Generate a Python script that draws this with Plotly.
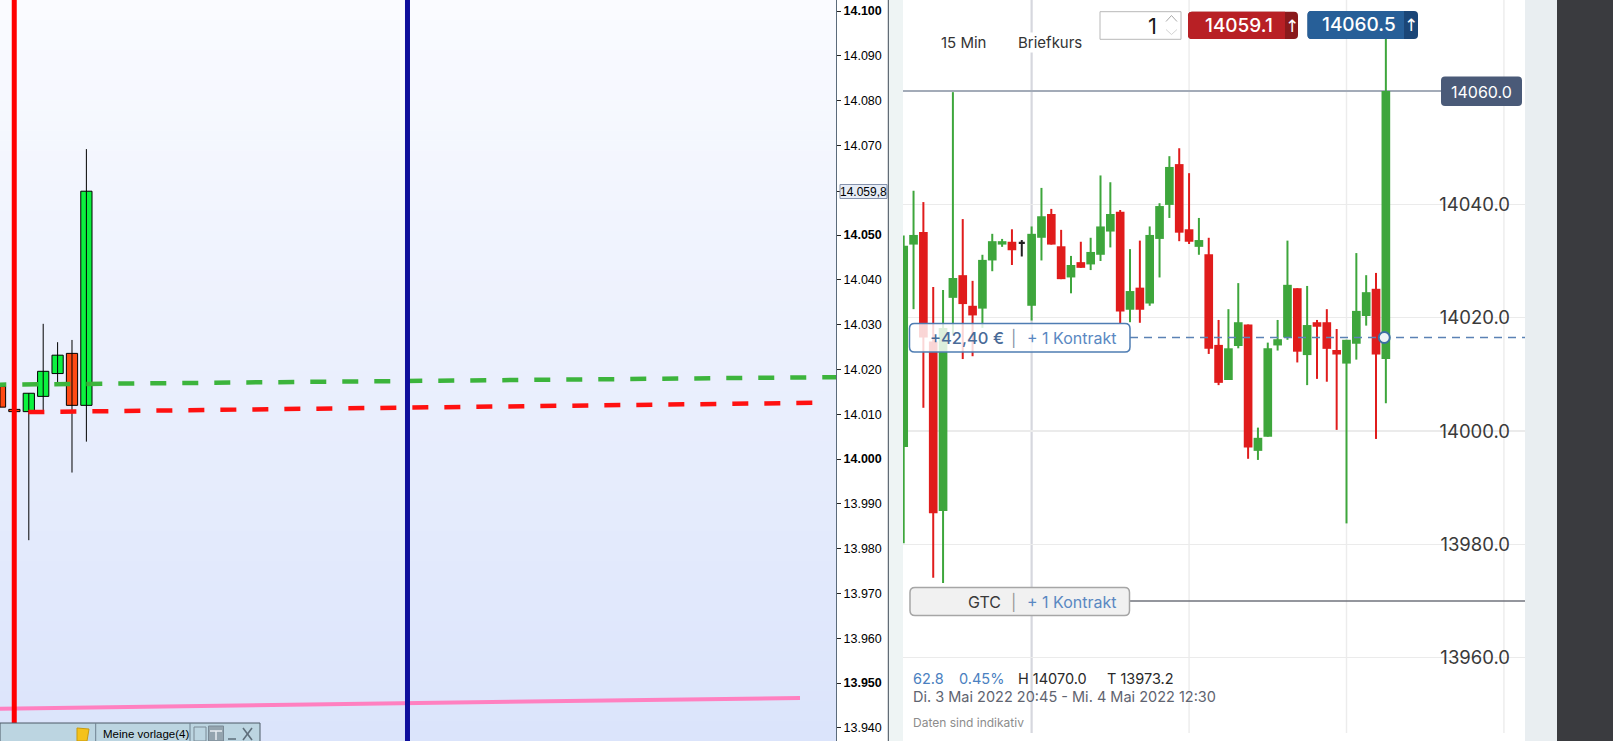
import plotly.graph_objects as go

W, H = 1613, 741

# ---------------- data ----------------
# left panel (CFD chart with German number format)
L_X = [0, 1, 2, 3, 4, 5, 6]
L_OPEN = [14016.2, 14011.1, 14010.6, 14014.0, 14019.1, 14023.6, 14012.0]
L_HIGH = [14016.2, 14011.1, 14014.7, 14030.2, 14026.1, 14026.6, 14069.2]
L_LOW = [14011.6, 14010.6, 13981.9, 14010.6, 14017.0, 13997.0, 14003.9]
L_CLOSE = [14011.6, 14010.6, 14014.7, 14019.6, 14023.2, 14012.0, 14059.8]
L_TICKS = list(range(13940, 14101, 10))
L_LAST = 14059.8
L_GREEN_LINE = [14016.6, 14018.3]
L_RED_LINE = [14010.5, 14012.6]
L_PINK_LINE = [13944.3, 13946.7]
L_RED_VLINE = 0.99
L_BLUE_VLINE = 28.3

# right panel (15 Min, Briefkurs)
R_OPEN = [13997.2, 14032.9, 14035.1, 14015.8, 13985.9, 14023.5, 14027.5, 14022.1, 14021.6, 14030.1,
          14032.9, 14033.4, 14033.2, 14022.1, 14034.1, 14038.3, 14032.6, 14027.1, 14029.8, 14029.4,
          14031.1, 14035.2, 14038.7, 14021.4, 14025.3, 14022.5, 14033.9, 14039.9, 14047.1, 14035.6,
          14032.5, 14031.2, 14015.2, 14009.0, 14015.0, 14018.8, 13996.5, 13999.0, 14015.1, 14016.5,
          14025.2, 14013.4, 14019.2, 14019.2, 14014.3, 14011.9, 14015.4, 14020.3, 14025.1, 14012.7]
R_HIGH = [14034.5, 14042.4, 14040.4, 14025.4, 14024.9, 14059.8, 14037.4, 14026.5, 14031.1, 14034.8,
          14033.9, 14035.6, 14033.7, 14036.1, 14042.9, 14039.2, 14035.5, 14030.9, 14033.4, 14034.1,
          14045.1, 14043.9, 14039.0, 14032.1, 14033.6, 14036.1, 14040.2, 14048.5, 14049.9, 14045.5,
          14037.6, 14034.1, 14019.6, 14021.5, 14026.1, 14018.8, 14000.6, 14015.6, 14019.6, 14033.6,
          14025.2, 14025.6, 14019.6, 14021.5, 14018.0, 14016.1, 14031.4, 14027.5, 14027.9, 14070.0]
R_LOW = [13980.2, 14021.5, 14004.1, 13974.1, 13973.2, 14017.0, 14012.7, 14013.2, 14018.2, 14028.2,
         14032.5, 14029.3, 14030.8, 14019.5, 14030.1, 14032.9, 14026.8, 14024.3, 14028.8, 14028.4,
         14030.0, 14032.4, 14019.0, 14019.2, 14019.1, 14022.1, 14027.1, 14037.6, 14033.5, 14033.0,
         14031.1, 14013.6, 14008.1, 14009.0, 14014.6, 13995.1, 13994.9, 13999.0, 14014.2, 14016.1,
         14012.1, 14008.1, 14009.2, 14008.7, 14000.2, 13983.7, 14012.6, 14018.6, 13998.6, 14004.9]
R_CLOSE = [14032.7, 14034.6, 14016.5, 13985.5, 14018.2, 14027.0, 14022.4, 14020.4, 14030.2, 14033.5,
           14033.5, 14031.9, 14033.2, 14034.8, 14037.9, 14032.9, 14026.8, 14029.3, 14028.8, 14031.6,
           14036.1, 14038.3, 14021.1, 14024.7, 14021.4, 14034.6, 14039.7, 14046.6, 14035.0, 14033.4,
           14033.7, 14014.5, 14008.5, 14014.6, 14019.2, 13997.1, 13998.8, 14014.6, 14016.2, 14025.8,
           14014.0, 14018.7, 14018.4, 14014.5, 14013.5, 14016.1, 14021.2, 14024.5, 14013.5, 14060.0]
R_TICKS = [13960, 13980, 14000, 14020, 14040]
R_GRID_X = [13, 29, 45, 61]
ENTRY_PRICE = 14016.5
ENTRY_X = 48.84
GTC_PRICE = 13970.0
BID, ASK = 14059.1, 14060.5
QTY = 1
PNL_TEXT = "+42,40 €"
DATE_TEXT = "Di. 3 Mai 2022 20:45 - Mi. 4 Mai 2022 12:30"

# ---------------- helpers ----------------
def px(x):
    return x / W


def py(y):
    return 1 - y / H


def pt(x, y):
    return f"{px(x):.6f},{py(y):.6f}"


def rpath(x0, y0, x1, y1, rl=4, rr=4):
    s = f"M {pt(x0 + rl, y0)} L {pt(x1 - rr, y0)} "
    if rr:
        s += f"Q {pt(x1, y0)} {pt(x1, y0 + rr)} "
    s += f"L {pt(x1, y1 - rr)} "
    if rr:
        s += f"Q {pt(x1, y1)} {pt(x1 - rr, y1)} "
    s += f"L {pt(x0 + rl, y1)} "
    if rl:
        s += f"Q {pt(x0, y1)} {pt(x0, y1 - rl)} "
    s += f"L {pt(x0, y0 + rl)} "
    if rl:
        s += f"Q {pt(x0, y0)} {pt(x0 + rl, y0)} "
    return s + "Z"


shapes = []
annos = []


def rect(x0, y0, x1, y1, fill, line=None, lw=0, layer="above"):
    shapes.append(dict(type="rect", xref="paper", yref="paper", x0=px(x0), x1=px(x1),
                       y0=py(y1), y1=py(y0), fillcolor=fill, layer=layer,
                       line=dict(color=line or fill, width=lw)))


def rrect(x0, y0, x1, y1, fill, line=None, lw=0, rl=4, rr=4, layer="above"):
    shapes.append(dict(type="path", xref="paper", yref="paper", path=rpath(x0, y0, x1, y1, rl, rr),
                       fillcolor=fill, layer=layer, line=dict(color=line or fill, width=lw)))


def seg(x0, y0, x1, y1, color, lw=1, layer="above", dash=None):
    shapes.append(dict(type="line", xref="paper", yref="paper", x0=px(x0), x1=px(x1),
                       y0=py(y0), y1=py(y1), layer=layer,
                       line=dict(color=color, width=lw, dash=dash)))


def text(x, y, s, size, color, family="Inter", xanchor="left", bg=None, weight=None):
    f = dict(family=family, size=size, color=color)
    if weight:
        f["weight"] = weight
    a = dict(x=px(x), y=py(y), xref="paper", yref="paper", text=s, showarrow=False,
             xanchor=xanchor, yanchor="middle", font=f, borderpad=0)
    if bg:
        a["bgcolor"] = bg
    annos.append(a)


fig = go.Figure()

# ---------------- left panel ----------------
lwx, lwy = [], []
for x, h, l in zip(L_X, L_HIGH, L_LOW):
    lwx += [x, x, None]
    lwy += [l, h, None]
fig.add_trace(go.Scatter(x=lwx, y=lwy, mode="lines", line=dict(color="#000000", width=1),
                         xaxis="x", yaxis="y", hoverinfo="skip", showlegend=False))
fig.add_trace(go.Bar(
    x=L_X, base=[min(o, c) for o, c in zip(L_OPEN, L_CLOSE)],
    y=[max(abs(c - o), 0.4) for o, c in zip(L_OPEN, L_CLOSE)], width=0.78,
    marker=dict(color=["#0cf23f" if c > o else "#ff4a14" for o, c in zip(L_OPEN, L_CLOSE)],
                line=dict(color="#000000", width=1)),
    xaxis="x", yaxis="y", hoverinfo="skip", showlegend=False))

fig.add_trace(go.Scatter(x=[-0.674, 58.06], y=L_GREEN_LINE, mode="lines",
                         line=dict(color="#3cb43c", width=4.5, dash="16px,16px"),
                         xaxis="x", yaxis="y", hoverinfo="skip", showlegend=False))
fig.add_trace(go.Scatter(x=[1.97, 57.5], y=L_RED_LINE, mode="lines",
                         line=dict(color="#ff1010", width=4.5, dash="16px,16px"),
                         xaxis="x", yaxis="y", hoverinfo="skip", showlegend=False))
fig.add_trace(go.Scatter(x=[0, 55.56], y=L_PINK_LINE, mode="lines",
                         line=dict(color="#ff80c0", width=4),
                         xaxis="x", yaxis="y", hoverinfo="skip", showlegend=False))

# gradient background of left panel
N = 74
top, bot = (250, 251, 255), (219, 228, 251)
for k in range(N):
    t = k / (N - 1)
    c = tuple(round(top[i] + (bot[i] - top[i]) * t) for i in range(3))
    y0 = k * H / N
    y1 = (k + 1) * H / N + 0.6
    rect(0, y0, 836, y1, f"rgb{c}", layer="below")

for xv, col in [(L_RED_VLINE, "#ff0000"), (L_BLUE_VLINE, "#0f0f9c")]:
    shapes.append(dict(type="line", xref="x", yref="paper", x0=xv, x1=xv, y0=0, y1=1,
                       layer="above", line=dict(color=col, width=5)))

# left last-price box
rect(840, 184.5, 887, 198.5, "#e6ecf6", "#8592ac", 1)
text(863.5, 191.5, f"{L_LAST:,.1f}".replace(",", "X").replace(".", ",").replace("X", "."),
     12, "#000000", "Liberation Sans", "center")


def de(v):
    return f"{v:,}".replace(",", ".")


l_tickvals = L_TICKS[:12] + [L_LAST] + L_TICKS[13:]
l_ticktext = []
for v in l_tickvals:
    if v == L_LAST:
        l_ticktext.append("")
    elif v % 50 == 0:
        l_ticktext.append(f"<b>{de(v)}</b>")
    else:
        l_ticktext.append(de(v))

# taskbar at bottom left
rect(0, 723, 260, 742, "#bcd5e1", "#4c5a66", 1)
seg(95.7, 723, 95.7, 741, "#6f8290", 1)
seg(190, 723, 190, 741, "#6f8290", 1)
shapes.append(dict(type="path", xref="paper", yref="paper",
                   path=f"M {pt(77, 741)} L {pt(77, 728)} L {pt(89, 729)} L {pt(87, 741)} Z",
                   fillcolor="#f4c21a", line=dict(color="#c89a10", width=1), layer="above"))
text(101.5, 733.5, "Meine vorlage(4)", 11.5, "#000000", "Liberation Sans")
rect(194, 727, 206, 741, "rgba(0,0,0,0)", "#7a8a96", 1)
rect(208.5, 726, 223.5, 741, "#94a4ae", "#7a8a96", 1)
seg(210, 731, 222, 731, "#e8eef2", 1.5)
seg(216, 731, 216, 740, "#e8eef2", 1.5)
seg(228, 739, 236, 739, "#5e6e7a", 1.5)
seg(243, 728, 252, 740, "#5e6e7a", 1.5)
seg(252, 728, 243, 740, "#5e6e7a", 1.5)

# panel separators
seg(888.3, 0, 888.3, 741, "#3b4854", 1)
rect(889, 0, 903, 741, "#eef4f4")
rect(1525, 0, 1557, 741, "#e9eef1")
rect(1557, 0, 1613, 741, "#3a3b3f")

# ---------------- right panel ----------------
GREEN, RED, DARK = "#3ea63c", "#e01c1c", "#222222"
groups = {GREEN: [], RED: [], DARK: []}
for i, (o, h, l, c) in enumerate(zip(R_OPEN, R_HIGH, R_LOW, R_CLOSE)):
    col = GREEN if c > o else (RED if c < o else DARK)
    groups[col].append((i, o, h, l, c))

for col, items in groups.items():
    wx, wy = [], []
    for i, o, h, l, c in items:
        wx += [i, i, None]
        wy += [l, h, None]
    fig.add_trace(go.Scatter(x=wx, y=wy, mode="lines", line=dict(color=col, width=2),
                             xaxis="x2", yaxis="y2", hoverinfo="skip", showlegend=False))
    neutral = col == DARK
    fig.add_trace(go.Bar(
        x=[it[0] for it in items],
        base=[min(it[1], it[4]) - (0.2 if neutral else 0) for it in items],
        y=[0.4 if neutral else abs(it[4] - it[1]) for it in items],
        width=0.62 if neutral else 0.88,
        marker=dict(color=col, line=dict(width=0)),
        xaxis="x2", yaxis="y2", hoverinfo="skip", showlegend=False))

# vertical grid lines
for j, gx in enumerate(R_GRID_X):
    shapes.append(dict(type="line", xref="x2", yref="paper", x0=gx, x1=gx, y0=py(733), y1=1,
                       layer="below",
                       line=dict(color="#d6d7de" if j == 0 else "#ececec", width=2.2 if j == 0 else 1.4)))

R_DOM = (903, 1525)


def xdom(p):
    return (p - R_DOM[0]) / (R_DOM[1] - R_DOM[0])


# last price line
shapes.append(dict(type="line", xref="x2 domain", yref="y2", x0=0, x1=xdom(1441),
                   y0=R_CLOSE[-1], y1=R_CLOSE[-1], layer="below",
                   line=dict(color="#a3abb8", width=2)))
# entry dashed line
shapes.append(dict(type="line", xref="x2 domain", yref="y2", x0=xdom(1130), x1=1,
                   y0=ENTRY_PRICE, y1=ENTRY_PRICE, layer="above",
                   line=dict(color="#5b82b5", width=1.6, dash="8px,6px")))
# entry marker (circle on top of the dashed line)
shapes.append(dict(type="circle", xref="x2", yref="y2", xsizemode="pixel", ysizemode="pixel",
                   xanchor=ENTRY_X, yanchor=ENTRY_PRICE, x0=-5.5, x1=5.5, y0=-5.5, y1=5.5,
                   fillcolor="#eef3f6", line=dict(color="#3d6fa3", width=2), layer="above"))
# GTC line
shapes.append(dict(type="line", xref="x2 domain", yref="y2", x0=xdom(1129), x1=1,
                   y0=GTC_PRICE, y1=GTC_PRICE, layer="above",
                   line=dict(color="#70737d", width=1.5)))

# position box
rrect(909.5, 323.5, 1130, 352, "rgba(255,255,255,0.82)", "#4f7db3", 1.5, 5, 5)
text(929, 338, PNL_TEXT, 16.5, "#4a6b98", weight=500)
text(1013.5, 338, "|", 16, "#8796aa", xanchor="center")
text(1025.5, 338, f"+ {QTY} Kontrakt", 16, "#5a88c2")

# GTC box
rrect(910, 587.5, 1129.5, 615.5, "#f1f1f1", "#a6a6a6", 1.5, 5, 5)
text(1002, 602, "GTC", 16, "#3a3a3a", xanchor="right")
text(1013.5, 602, "|", 16, "#9a9a9a", xanchor="center")
text(1025.5, 602, f"+ {QTY} Kontrakt", 16, "#5a88c2")

# header
text(940, 43, "15 Min", 15, "#333333")
text(1016.5, 43, "Briefkurs", 15, "#333333", bg="#ffffff")
rect(1100, 11.7, 1181, 39.3, "#ffffff", "#b8b8b8", 1)
text(1158, 26, str(QTY), 22, "#1a1a1a", xanchor="right")
shapes.append(dict(type="path", xref="paper", yref="paper",
                   path=f"M {pt(1166, 21.5)} L {pt(1171.5, 15.5)} L {pt(1177, 21.5)}",
                   line=dict(color="#a8a8a8", width=1), layer="above"))
shapes.append(dict(type="path", xref="paper", yref="paper",
                   path=f"M {pt(1166, 29.5)} L {pt(1171.5, 34.5)} L {pt(1177, 29.5)}",
                   line=dict(color="#d4d4d4", width=1), layer="above"))

# bid / ask buttons
rrect(1188, 11.7, 1298, 39, "#8a1a1c", rl=4, rr=4)
rrect(1188, 11.7, 1285, 39, "#b82025", rl=4, rr=0)
text(1239, 25.5, f"{BID:.1f}", 19, "#ffffff", xanchor="center", weight=500)
text(1291.5, 25.5, "↑", 17, "#ffffff", "DejaVu Sans", xanchor="center")
rrect(1307.5, 11, 1418, 39, "#1b4677", rl=4, rr=4)
rrect(1307.5, 11, 1404, 39, "#275f98", rl=4, rr=0)
text(1359, 25, f"{ASK:.1f}", 19, "#ffffff", xanchor="center", weight=500)
text(1411, 25, "↑", 17, "#ffffff", "DejaVu Sans", xanchor="center")

# last price label
rrect(1441, 76.5, 1522, 106, "#4a5a78", rl=4, rr=4)
text(1481.5, 91.5, f"{R_CLOSE[-1]:.1f}", 16, "#ffffff", xanchor="center")

# footer info
chg = R_CLOSE[-1] - R_OPEN[0]
pct = chg / R_OPEN[0] * 100
text(911.5, 678.5, f"{chg:.1f}", 14.5, "#4a80c0")
text(958, 678.5, f"{pct:.2f}%", 14.5, "#4a80c0")
text(1017, 678.5, f"H {max(R_HIGH):.1f}", 14.5, "#2a2a2a")
text(1106, 678.5, f"T {min(R_LOW):.1f}", 14.5, "#2a2a2a")
text(911.5, 696.5, DATE_TEXT, 14.5, "#5f6470")
text(911.5, 722.5, "Daten sind indikativ", 12, "#8c8c8c")

fig.update_layout(
    width=W, height=H, margin=dict(l=0, r=0, t=0, b=0),
    paper_bgcolor="#ffffff", plot_bgcolor="rgba(0,0,0,0)",
    barmode="overlay", showlegend=False, hovermode=False, dragmode=False,
    xaxis=dict(domain=[0, px(836)], range=[0, 58.06], visible=False, fixedrange=True),
    yaxis=dict(domain=[0, 1], range=[13937.08, 14102.48], anchor="x", side="right",
               showgrid=False, zeroline=False, showline=True, linecolor="#5b6b7b", linewidth=1,
               ticks="outside", ticklen=4, tickwidth=1, tickcolor="#222222",
               tickvals=l_tickvals, ticktext=l_ticktext,
               tickfont=dict(family="Liberation Sans", size=12.5, color="#000000")),
    xaxis2=dict(domain=[px(R_DOM[0]), px(R_DOM[1])], range=[-0.071, 63.14], visible=False,
                anchor="y2"),
    yaxis2=dict(domain=[0, 1], range=[13945.3, 14076.06], anchor="x2", side="right",
                ticklabelposition="inside", ticks="", showline=False, zeroline=False,
                showgrid=True, gridcolor="#ebebeb", gridwidth=1.4,
                tickvals=R_TICKS, ticktext=[f"{v:.1f}" for v in R_TICKS],
                ticklabelstandoff=12,
                tickfont=dict(family="Inter", size=18.5, color="#3a3a3a")),
    shapes=shapes, annotations=annos,
)

fig.write_html("out.html", config={"displayModeBar": False, "staticPlot": True},
               post_script="document.body.style.margin='0px';document.body.style.overflow='hidden';")
